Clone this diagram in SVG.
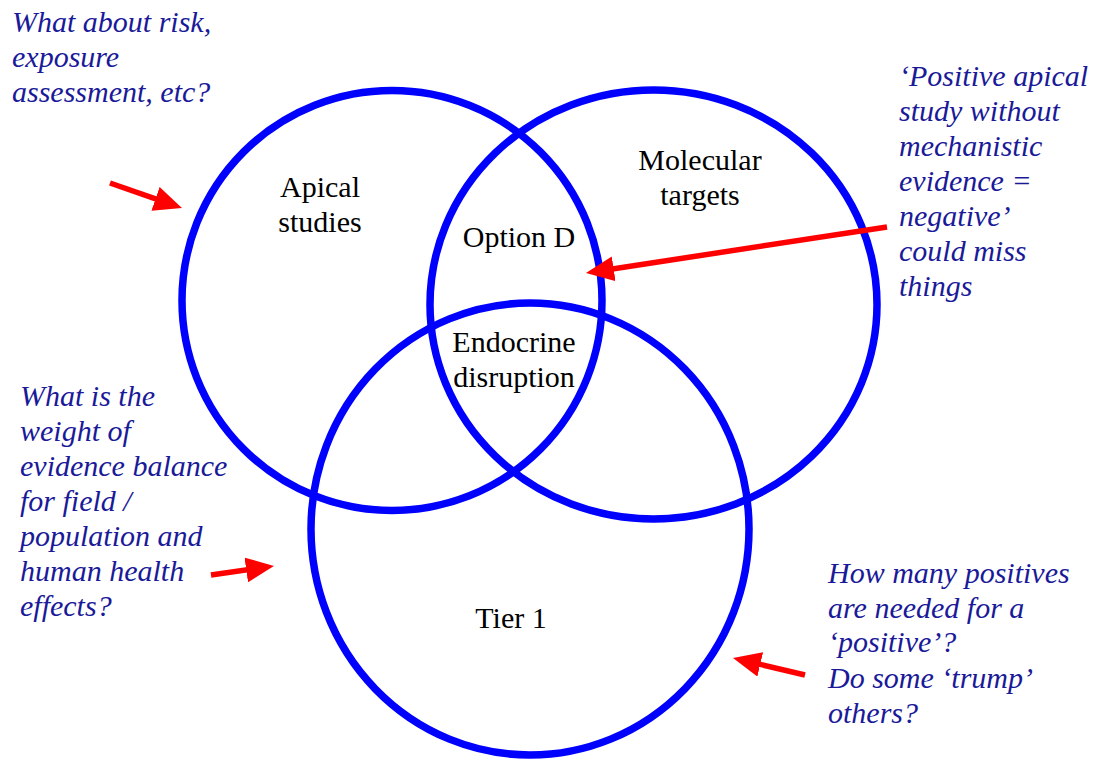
<svg xmlns="http://www.w3.org/2000/svg" width="1101" height="763" viewBox="0 0 1101 763" font-family="Liberation Serif, DejaVu Serif, Times New Roman, serif">
<style>
.ring{fill:none;stroke:#0000ff;stroke-width:7.5}
.lbl{fill:#000000;text-anchor:middle;font-size:30px}
.note{font-style:italic;fill:#1a1a99;font-size:30px}
.arr{stroke:#ff0000;stroke-width:5.5;fill:none;marker-end:url(#head)}
</style>
<defs>
<marker id="head" markerUnits="userSpaceOnUse" viewBox="0 0 28 25" markerWidth="28" markerHeight="25" refX="13" refY="12.5" orient="auto">
<path d="M0,0 L28,12.5 L0,25 z" fill="#ff0000"/>
</marker>
</defs>
<rect width="1101" height="763" fill="#ffffff"/>
<g id="apical">
<circle class="ring" cx="392" cy="300.5" r="210"/>
<text class="lbl" x="320" y="197" font-family="Liberation Serif">Apical</text>
<text class="lbl" x="320" y="232" font-family="Liberation Serif">studies</text>
</g>
<g id="molecular">
<ellipse class="ring" cx="653.5" cy="304.5" rx="223.5" ry="214.5"/>
<text class="lbl" x="700" y="170" font-family="Liberation Serif">Molecular</text>
<text class="lbl" x="700" y="205" font-family="Liberation Serif">targets</text>
</g>
<g id="tier1">
<ellipse class="ring" cx="530" cy="529" rx="219" ry="226"/>
<text class="lbl" x="511" y="628" font-family="Liberation Serif">Tier 1</text>
</g>
<g id="optionD">
<text class="lbl" x="519" y="247" font-family="Liberation Serif">Option D</text>
</g>
<g id="endocrine">
<text class="lbl" x="514" y="352" font-family="Liberation Serif">Endocrine</text>
<text class="lbl" x="514" y="387" font-family="Liberation Serif">disruption</text>
</g>
<g id="note-risk" font-family="Liberation Serif">
<text class="note" x="12" y="32">What about risk,</text>
<text class="note" x="12" y="67">exposure</text>
<text class="note" x="12" y="102">assessment, etc?</text>
</g>
<g id="note-apical" font-family="Liberation Serif">
<text class="note" x="899" y="86">‘Positive apical</text>
<text class="note" x="899" y="121">study without</text>
<text class="note" x="899" y="156">mechanistic</text>
<text class="note" x="899" y="191">evidence =</text>
<text class="note" x="899" y="226">negative’</text>
<text class="note" x="899" y="261">could miss</text>
<text class="note" x="899" y="296">things</text>
</g>
<g id="note-weight" font-family="Liberation Serif">
<text class="note" x="20" y="406">What is the</text>
<text class="note" x="20" y="441">weight of</text>
<text class="note" x="20" y="476">evidence balance</text>
<text class="note" x="20" y="511">for field /</text>
<text class="note" x="20" y="546">population and</text>
<text class="note" x="20" y="581">human health</text>
<text class="note" x="20" y="616">effects?</text>
</g>
<g id="note-positives" font-family="Liberation Serif">
<text class="note" x="828" y="583">How many positives</text>
<text class="note" x="828" y="618">are needed for a</text>
<text class="note" x="828" y="652">‘positive’?</text>
<text class="note" x="828" y="688">Do some ‘trump’</text>
<text class="note" x="828" y="723">others?</text>
</g>
<g id="connectors">
<line class="arr" x1="110" y1="183" x2="167.8" y2="203.1"/>
<line class="arr" x1="211" y1="575" x2="259.1" y2="568.1"/>
<line class="arr" x1="887" y1="227" x2="600.8" y2="270.7"/>
<line class="arr" x1="805" y1="675" x2="747.6" y2="661.4"/>
</g>
</svg>
